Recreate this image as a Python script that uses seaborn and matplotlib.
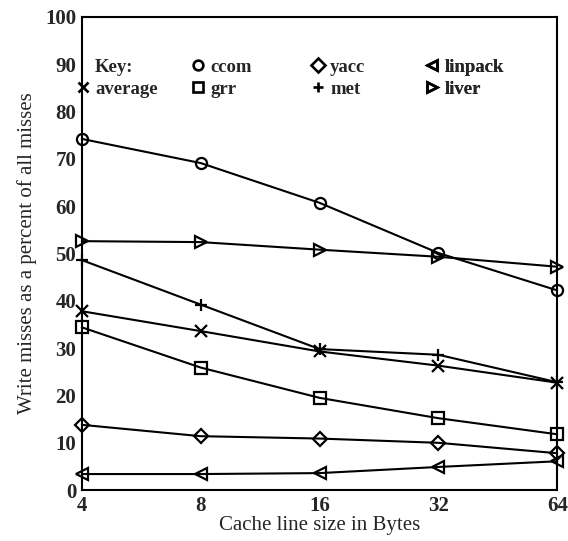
import matplotlib
matplotlib.use("Agg")
import matplotlib.pyplot as plt
import seaborn as sns
import pandas as pd
from matplotlib.lines import Line2D

line_sizes = ["4", "8", "16", "32", "64"]
ccom = [74.2, 69.1, 60.7, 50.1, 42.2]
liver = [52.6, 52.4, 50.8, 49.3, 47.2]
met = [48.6, 39.2, 29.8, 28.6, 22.8]
average = [37.8, 33.6, 29.3, 26.3, 22.7]
grr = [34.4, 25.9, 19.5, 15.2, 11.8]
yacc = [13.8, 11.4, 10.9, 10.0, 7.8]
linpack = [3.4, 3.4, 3.6, 4.9, 6.1]

series = {"ccom": ccom, "liver": liver, "met": met, "average": average,
          "grr": grr, "yacc": yacc, "linpack": linpack}
markers = {"ccom": "o", "liver": ">", "met": "+", "average": "x",
           "grr": "s", "yacc": "D", "linpack": "<"}

rows = []
for name, vals in series.items():
    for i, v in enumerate(vals):
        rows.append({"series": name, "pos": i, "val": v})
df = pd.DataFrame(rows)

sns.set_theme(style="white")
plt.rcParams["font.family"] = ["Liberation Serif", "DejaVu Serif"]

fig = plt.figure(figsize=(5.68, 5.41), dpi=100)
ax = fig.add_axes([0.144, 0.094, 0.837, 0.875])

for name in series:
    sub = df[df["series"] == name]
    m = markers[name]
    ms = 8 if m in ("o", "s") else (7 if m == "D" else 9)
    sns.lineplot(data=sub, x="pos", y="val", ax=ax, color="black", lw=1.5,
                 marker=m, markersize=ms, markerfacecolor="none",
                 markeredgecolor="black", markeredgewidth=1.6,
                 clip_on=False, legend=False, zorder=3)

ax.set_xlim(0, 4)
ax.set_ylim(0, 100)
ax.set_xticks(range(5))
ax.set_xticklabels(line_sizes, fontsize=15, fontweight="bold")
ax.set_yticks(range(0, 101, 10))
ax.set_yticklabels([str(v) for v in range(0, 101, 10)], fontsize=15, fontweight="bold")
ax.tick_params(length=0, pad=4)
ax.set_xlabel("Cache line size in Bytes", fontsize=15, labelpad=0)
ax.set_ylabel("Write misses as a percent of all misses", fontsize=15, labelpad=6)
for s in ax.spines.values():
    s.set_color("black")
    s.set_linewidth(1.5)
ax.grid(False)

def h(m):
    return Line2D([], [], ls="none", marker=m, color="black", markerfacecolor="none",
                  markeredgewidth=1.9, markersize=7)

key_columns = [
    ([Line2D([], [], ls="none"), h("x")], ["Key:", "average"], -0.0097),
    ([h("o"), h("s")], ["ccom", "grr"], 0.2324),
    ([h("D"), h("+")], ["yacc", "met"], 0.485),
    ([h("<"), h(">")], ["linpack", "liver"], 0.725),
]
for hs, ls, xa in key_columns:
    leg = ax.legend(hs, ls, ncol=1, loc="upper left", bbox_to_anchor=(xa, 0.911),
                    frameon=False, handlelength=0.6, handletextpad=0.35, borderpad=0,
                    labelspacing=0.25, borderaxespad=0,
                    prop={"family": "Liberation Serif", "weight": "bold", "size": 13.5})
    ax.add_artist(leg)

fig.savefig("out.png", dpi=100)
